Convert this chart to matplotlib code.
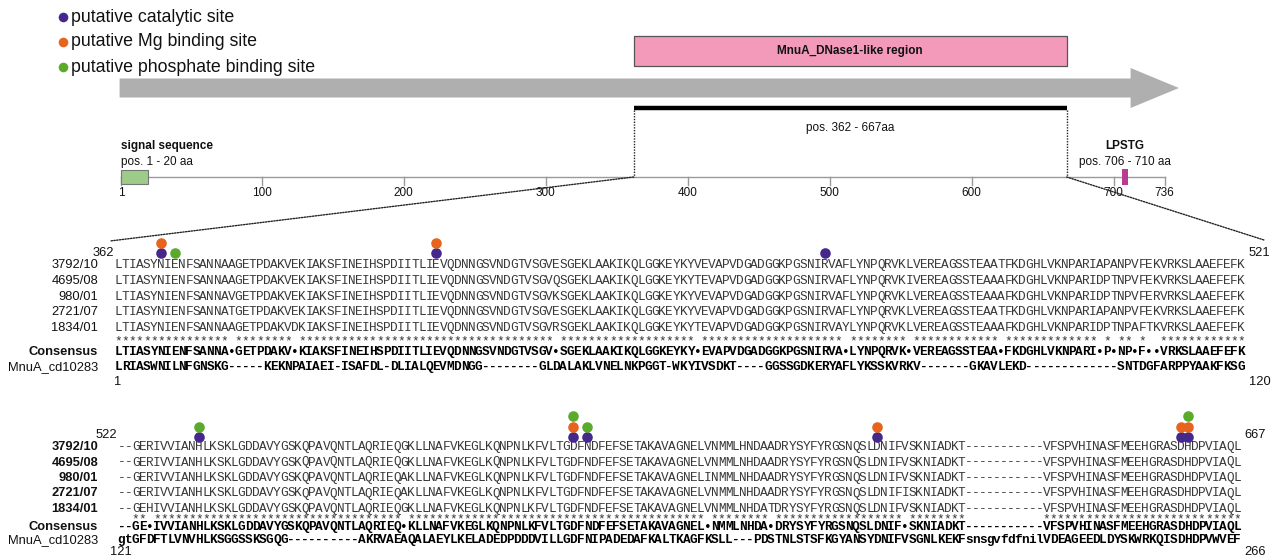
import matplotlib
matplotlib.use("Agg")
import matplotlib.pyplot as plt
from matplotlib.patches import Rectangle, Polygon, ConnectionPatch

# ---------------- protein map ----------------
protein_length = 736
map_ticks = [1, 100, 200, 300, 400, 500, 600, 700, 736]
signal_peptide = (1, 20)
dnase_region = (362, 667)
lpstg_motif = (706, 710)

# ---------------- alignment ----------------
strains = ["3792/10", "4695/08", "980/01", "2721/07", "1834/01"]
cd_name = "MnuA_cd10283"

block1_strain_seqs = [
    "LTIASYNIENFSANNAAGETPDAKVEKIAKSFINEIHSPDIITLIEVQDNNGSVNDGTVSGVESGEKLAAKIKQLGGKEYKYVEVAPVDGADGGKPGSNIRVAFLYNPQRVKLVEREAGSSTEAATFKDGHLVKNPARIAPANPVFEKVRKSLAAEFEFK",
    "LTIASYNIENFSANNAAGETPDAKVEKIAKSFINEIHSPDIITLIEVQDNNGSVNDGTVSGVQSGEKLAAKIKQLGGKEYKYTEVAPVDGADGGKPGSNIRVAFLYNPQRVKIVEREAGSSTEAAAFKDGHLVKNPARIDPTNPVFEKVRKSLAAEFEFK",
    "LTIASYNIENFSANNAVGETPDAKVEKIAKSFINEIHSPDIITLIEVQDNNGSVNDGTVSGVKSGEKLAAKIKQLGGKEYKYVEVAPVDGADGGKPGSNIRVAFLYNPQRVKLVEREAGSSTEAAAFKDGHLVKNPARIDPTNPVFERVRKSLAAEFEFK",
    "LTIASYNIENFSANNATGETPDAKVEKIAKSFINEIHSPDIITLIEVQDNNGSVNDGTVSGVESGEKLAAKIKQLGGKEYKYVEVAPVDGADGGKPGSNIRVAFLYNPQRVKLVEREAGSSTEAATFKDGHLVKNPARIAPANPVFEKVRKSLAAEFEFK",
    "LTIASYNIENFSANNAAGETPDAKVDKIAKSFINEIHSPDIITLIEVQDNNGSVNDGTVSGVRSGEKLAAKIKQLGGKEYKYTEVAPVDGADGGKPGSNIRVAYLYNPQRVKLVEREAGSSTEAAAFKDGHLVKNPARIDPTNPAFTKVRKSLAAEFEFK",
]
block1_consensus = "LTIASYNIENFSANNA•GETPDAKV•KIAKSFINEIHSPDIITLIEVQDNNGSVNDGTVSGV•SGEKLAAKIKQLGGKEYKY•EVAPVDGADGGKPGSNIRVA•LYNPQRVK•VEREAGSSTEAA•FKDGHLVKNPARI•P•NP•F••VRKSLAAEFEFK"
block1_cd = "LRIASWNILNFGNSKG-----KEKNPAIAEI-ISAFDL-DLIALQEVMDNGG--------GLDALAKLVNELNKPGGT-WKYIVSDKT----GGSSGDKERYAFLYKSSKVRKV-------GKAVLEKD-------------SNTDGFARPPYAAKFKSG"
block1_strain_range = (362, 521)
block1_cd_range = (1, 120)

block2_strain_seqs = [
    "--GERIVVIANHLKSKLGDDAVYGSKQPAVQNTLAQRIEQGKLLNAFVKEGLKQNPNLKFVLTGDFNDFEFSETAKAVAGNELVNMMLHNDAADRYSYFYRGSNQSLDNIFVSKNIADKT-----------VFSPVHINASFMEEHGRASDHDPVIAQL",
    "--GERIVVIANHLKSKLGDDAVYGSKQPAVQNTLAQRIEQGKLLNAFVKEGLKQNPNLKFVLTGDFNDFEFSETAKAVAGNELVNMMLNHDAADRYSYFYRGSNQSLDNIFVSKNIADKT-----------VFSPVHINASFMEEHGRASDHDPVIAQL",
    "--GERIVVIANHLKSKLGDDAVYGSKQPAVQNTLAQRIEQAKLLNAFVKEGLKQNPNLKFVLTGDFNDFEFSETAKAVAGNELINMMLNHDAADRYSYFYRGSNQSLDNIFVSKNIADKT-----------VFSPVHINASFMEEHGRASDHDPVIAQL",
    "--GERIVVIANHLKSKLGDDAVYGSKQPAVQNTLAQRIEQAKLLNAFVKEGLKQNPNLKFVLTGDFNDFEFSETAKAVAGNELVNMMLNHDAADRYSYFYRGSNQSLDNIFISKNIADKT-----------VFSPVHINASFMEEHGRASDHDPVIAQL",
    "--GEHIVVIANHLKSKLGDDAVYGSKQPAVQNTLAQRIEQGKLLNAFVKEGLKQNPNLKFVLTGDFNDFEFSETAKAVAGNELVNMMLNHDATDRYSYFYRGSNQSLDNIFVSKNIADKT-----------VFSPVHINASFMEEHGRASDHDPVIAQL",
]
block2_consensus = "--GE•IVVIANHLKSKLGDDAVYGSKQPAVQNTLAQRIEQ•KLLNAFVKEGLKQNPNLKFVLTGDFNDFEFSETAKAVAGNEL•NMMLNHDA•DRYSYFYRGSNQSLDNIF•SKNIADKT-----------VFSPVHINASFMEEHGRASDHDPVIAQL"
block2_cd = "gtGFDFTLVNVHLKSGGSSKSGQG----------AKRVAEAQALAEYLKELADEDPDDDVILLGDFNIPADEDAFKALTKAGFKSLL---PDSTNLSTSFKGYANSYDNIFVSGNLKEKFsnsgvfdfnilVDEAGEEDLDYSKWRKQISDHDPVWVEF"
block2_strain_range = (522, 667)
block2_cd_range = (121, 266)

# putative sites (residue numbers of strain 3792/10)
catalytic_sites = [368, 407, 462, 531, 584, 586, 627, 659, 660]
mg_sites = [368, 407, 584, 627, 659, 660]
phosphate_sites = [370, 531, 584, 586, 660]

site_types = [
    ("putative catalytic site", catalytic_sites, "#46288c"),
    ("putative Mg binding site", mg_sites, "#e8631c"),
    ("putative phosphate binding site", phosphate_sites, "#5aab2c"),
]

# ---------------- figure ----------------
W, H, DPI = 1276, 556, 100
fig = plt.figure(figsize=(W / DPI, H / DPI), dpi=DPI)
fig.patch.set_facecolor("white")

# pixel-space axes for the alignment and annotations
ax = fig.add_axes([0, 0, 1, 1])
ax.set_xlim(0, W)
ax.set_ylim(H, 0)
ax.axis("off")

# residue-space axes for the protein map (x in amino acids, y in pixels)
MAP_X1, MAP_SCALE = 121.0, 1.42
ax_map = fig.add_axes([0, 0, 1, 1])
ax_map.set_xlim(1 - MAP_X1 / MAP_SCALE, 1 + (W - MAP_X1) / MAP_SCALE)
ax_map.set_ylim(H, 0)
ax_map.axis("off")
ax_map.patch.set_visible(False)

SANS = "Liberation Sans"
MONO = "Liberation Mono"

# ---- legend ----
for k, (label, _, color) in enumerate(site_types):
    y = 17 + k * 25
    ax.scatter([63], [y], s=48, color=color, zorder=5, linewidths=0)
    ax.text(71, y, label, fontsize=12.8, family=SANS, va="center", ha="left", color="#111111")

# ---- protein arrow ----
y_mid = 88
shaft_h, head_h = 9.5, 20
head_len = 34
start, tip = 0, protein_length + 10
arrow = Polygon([
    (start, y_mid - shaft_h), (tip - head_len, y_mid - shaft_h), (tip - head_len, y_mid - head_h),
    (tip, y_mid), (tip - head_len, y_mid + head_h), (tip - head_len, y_mid + shaft_h),
    (start, y_mid + shaft_h)], closed=True, facecolor="#afafaf", edgecolor="none", zorder=1)
ax_map.add_patch(arrow)

# ---- DNase1-like region box ----
r0, r1 = dnase_region
ax_map.add_patch(Rectangle((r0, 36), r1 - r0, 30, facecolor="#f39abb", edgecolor="#555555",
                           linewidth=0.9, zorder=2))
ax_map.text((r0 + r1) / 2, 51, "MnuA_DNase1-like region", fontsize=8.5, weight="bold",
            family=SANS, ha="center", va="center", color="#111111")

# black bar and label
ax_map.plot([r0, r1], [108, 108], color="black", linewidth=3.2, solid_capstyle="butt", zorder=3)
ax_map.text((r0 + r1) / 2, 128, f"pos. {r0} - {r1}aa", fontsize=8.5, family=SANS,
            ha="center", va="center", color="#111111")
for r in dnase_region:
    ax_map.plot([r, r], [110, 177], color="#222222", linewidth=1.0, linestyle=(0, (1, 1)), zorder=3)

# ---- axis line and ticks ----
AX_Y = 177
ax_map.plot([1, protein_length], [AX_Y, AX_Y], color="#9a9a9a", linewidth=1.0, zorder=2)
for t in map_ticks:
    ax_map.plot([t, t], [AX_Y, AX_Y + 8], color="#9a9a9a", linewidth=1.0, zorder=2)
    ax_map.text(t, 193, str(t), fontsize=8.5, family=SANS, ha="center", va="center", color="#111111")

# signal sequence
s0, s1 = signal_peptide
ax_map.add_patch(Rectangle((s0, AX_Y - 7), s1 - s0, 14, facecolor="#9dcb88", edgecolor="#777777",
                           linewidth=0.8, zorder=4))
ax_map.text(s0, 146, "signal sequence", fontsize=8.5, weight="bold", family=SANS,
            ha="left", va="center", color="#111111")
ax_map.text(s0, 162, f"pos. {s0} - {s1} aa", fontsize=8.5, family=SANS,
            ha="left", va="center", color="#111111")

# LPSTG motif
m0, m1 = lpstg_motif
ax_map.add_patch(Rectangle((m0, AX_Y - 8), m1 - m0, 16, facecolor="#b83c8f", edgecolor="none", zorder=4))
ax_map.text((m0 + m1) / 2, 146, "LPSTG", fontsize=8.5, weight="bold", family=SANS,
            ha="center", va="center", color="#111111")
ax_map.text((m0 + m1) / 2, 162, f"pos. {m0} - {m1} aa", fontsize=8.5, family=SANS,
            ha="center", va="center", color="#111111")

# ---------------- alignment blocks ----------------
CW = 7.06
SEQ_FS = 9.2


def draw_chars(x0, y, text, **kw):
    for i, ch in enumerate(text):
        if ch == " ":
            continue
        ax.text(x0 + (i + 0.5) * CW, y, ch, ha="center", va="center", family=MONO,
                fontsize=SEQ_FS, **kw)


def residue_columns(seq, first):
    cols, n = {}, first
    for i, ch in enumerate(seq):
        if ch != "-":
            cols[n] = i
            n += 1
    return cols


def draw_block(x0, rows_y, stars_y, cons_y, cd_y, seqs, consensus, cd_seq,
               strain_range, cd_range, bold_names, num_top_y, num_bot_y, dot_y):
    name_x = 98
    for name, seq, y in zip(strains, seqs, rows_y):
        ax.text(name_x, y, name, ha="right", va="center", family=SANS, fontsize=9.3,
                weight="bold" if bold_names else "normal", color="#111111")
        draw_chars(x0, y, seq, color="#383838")
    stars = "".join("*" if (c.isalpha()) else " " for c in consensus)
    draw_chars(x0, stars_y, stars, color="#333333")
    ax.text(name_x, cons_y, "Consensus", ha="right", va="center", family=SANS, fontsize=9.3,
            weight="bold", color="#111111")
    draw_chars(x0, cons_y, consensus, color="#000000", weight="bold")
    ax.text(name_x, cd_y, cd_name, ha="right", va="center", family=SANS, fontsize=9.3,
            color="#111111")
    draw_chars(x0, cd_y, cd_seq, color="#000000", weight="bold")

    ncol = len(seqs[0])
    x_end = x0 + ncol * CW
    ax.text(x0 - 1, num_top_y, str(strain_range[0]), ha="right", va="center", family=SANS,
            fontsize=9.3, color="#111111")
    ax.text(x_end + 4, num_top_y, str(strain_range[1]), ha="left", va="center", family=SANS,
            fontsize=9.3, color="#111111")
    ax.text(x0 + 3, num_bot_y, str(cd_range[0]), ha="center", va="center", family=SANS,
            fontsize=9.3, color="#111111")
    ax.text(x_end + 4, num_bot_y, str(cd_range[1]), ha="left", va="center", family=SANS,
            fontsize=9.3, color="#111111")

    # site markers stacked above the first strain
    cols = residue_columns(seqs[0], strain_range[0])
    for res in sorted(set(catalytic_sites) | set(mg_sites) | set(phosphate_sites)):
        if res not in cols:
            continue
        level = 0
        for _, sites, color in site_types:
            if res in sites:
                ax.scatter([x0 + (cols[res] + 0.5) * CW], [dot_y - level * 10.5], s=58,
                           color=color, linewidths=0, zorder=6)
                level += 1
    return x_end


# block 1
B1_X0 = 115
b1_rows = [265, 280.8, 296.6, 312.4, 328.2]
draw_block(B1_X0, b1_rows, 341, 352, 367, block1_strain_seqs, block1_consensus, block1_cd,
           block1_strain_range, block1_cd_range, False, 253, 382, 253)

# block 2
B2_X0 = 118
b2_rows = [447, 462.5, 478, 493.5, 509]
draw_block(B2_X0, b2_rows, 519, 527, 540, block2_strain_seqs, block2_consensus, block2_cd,
           block2_strain_range, block2_cd_range, True, 435, 552, 437)

# dotted connectors from the map to the zoomed alignment
for r, xy in ((dnase_region[0], (110, 241)), (dnase_region[1], (1264, 240))):
    con = ConnectionPatch(xyA=(r, AX_Y), coordsA=ax_map.transData, xyB=xy, coordsB=ax.transData,
                          color="#222222", linewidth=1.0, linestyle=(0, (1, 1)), zorder=3)
    fig.add_artist(con)

fig.savefig("out.png", dpi=DPI, facecolor="white")
